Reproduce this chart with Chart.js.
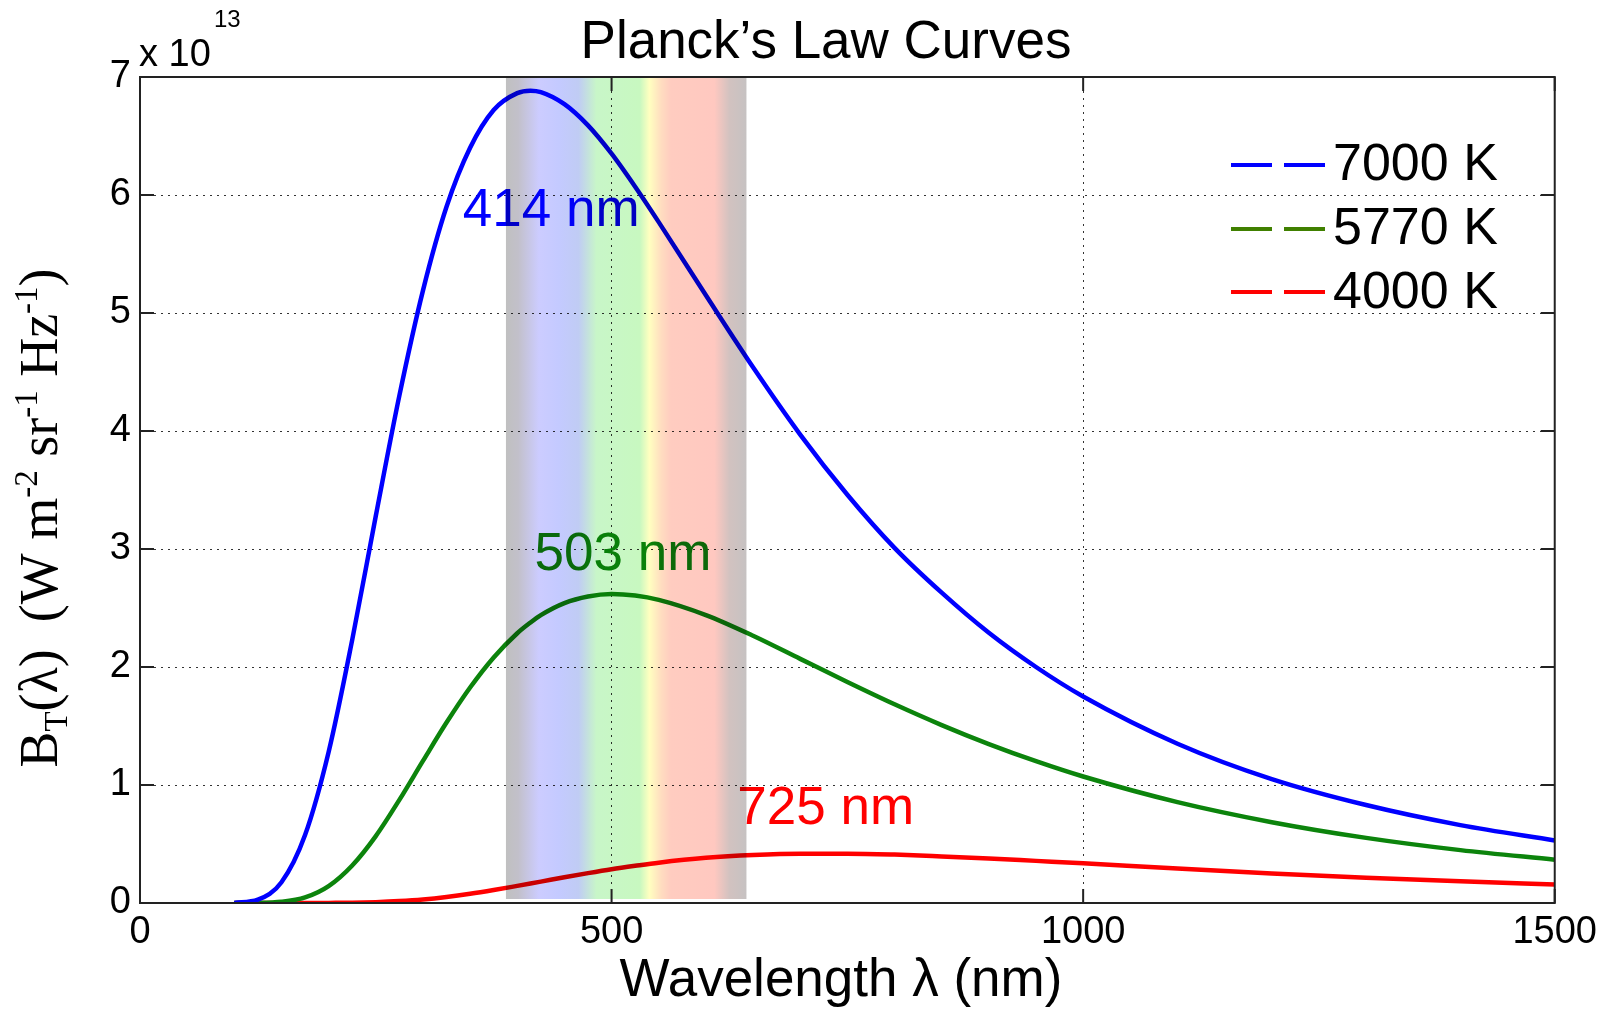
<!DOCTYPE html>
<html>
<head>
<meta charset="utf-8">
<script src="https://cdn.jsdelivr.net/npm/chart.js@4.4.0/dist/chart.umd.min.js"></script>
<style>
  html, body { margin: 0; padding: 0; background: #fff; }
</style>
</head>
<body>
<canvas id="planck-chart" width="1604" height="1014"></canvas>
<script>
// wavelength in nm, spectral radiance in units of 1e13
var wavelengths = [100, 125, 150, 175, 200, 225, 250, 275, 300, 325, 350, 375, 400, 414, 425, 450, 475, 500, 525, 550, 600, 650, 700, 750, 800, 850, 900, 950, 1000, 1100, 1200, 1300, 1400, 1500];
var temp7000 = [0.001, 0.028, 0.176, 0.576, 1.28, 2.23, 3.28, 4.30, 5.19, 5.90, 6.40, 6.72, 6.863, 6.884, 6.872, 6.77, 6.59, 6.35, 6.07, 5.77, 5.15, 4.54, 3.97, 3.46, 3.01, 2.63, 2.29, 2.00, 1.75, 1.35, 1.05, 0.83, 0.66, 0.53];
var temp5770 = [0.000, 0.001, 0.010, 0.047, 0.143, 0.318, 0.567, 0.874, 1.204, 1.529, 1.826, 2.081, 2.286, 2.377, 2.440, 2.542, 2.598, 2.619, 2.606, 2.569, 2.440, 2.265, 2.069, 1.873, 1.684, 1.508, 1.347, 1.202, 1.072, 0.855, 0.685, 0.552, 0.448, 0.367];
var temp4000 = [0.000, 0.000, 0.000, 0.000, 0.001, 0.002, 0.007, 0.016, 0.030, 0.051, 0.078, 0.110, 0.145, 0.165, 0.181, 0.218, 0.253, 0.286, 0.315, 0.342, 0.383, 0.407, 0.418, 0.418, 0.410, 0.395, 0.378, 0.357, 0.336, 0.292, 0.251, 0.215, 0.184, 0.157];

var seriesNames = ['7000 K', '5770 K', '4000 K'];
var seriesColors = ['#0000ff', '#0c840c', '#ff0000'];
var legendColors = ['#0000ff', '#408000', '#ff0000'];

// peak annotations (label centre in nm, baseline in 1e13 units)
var peakLabels = ['414 nm', '503 nm', '725 nm'];
var peakLabelX = [436, 512, 727];
var peakLabelY = [5.74, 2.82, 0.67];

// visible band, stops in nm
var bandStops = [388, 401, 423, 444, 465, 484, 530, 540, 553, 563, 609, 625, 643];
var bandColors = ['#c0c0c0', '#c2c0ca', '#ccccff', '#c4caff', '#c0ccf4', '#c8f6c8', '#c8f8c0', '#ffffc0', '#ffdcc0', '#ffccc0', '#ffc8c0', '#d2c2c0', '#c6c2c2'];

function toPoints(vals) {
    return wavelengths.map(function(w, i) { return { x: w, y: vals[i] }; });
}

var sans = '"Liberation Sans", Arial, Helvetica, sans-serif';
var serif = '"Liberation Serif", "Times New Roman", serif';

var decorations = {
    id: 'decorations',
    afterDatasetsDraw: function(chart) {
        var ctx = chart.ctx, area = chart.chartArea;
        var xs = chart.scales.x, ys = chart.scales.y;

        ctx.save();
        ctx.beginPath();
        ctx.rect(area.left, area.top, area.right - area.left, area.bottom - area.top);
        ctx.clip();

        // peak wavelength labels
        ctx.font = '53px ' + sans;
        ctx.textAlign = 'center';
        ctx.textBaseline = 'alphabetic';
        peakLabels.forEach(function(t, i) {
            ctx.fillStyle = seriesColors[i];
            ctx.fillText(t, xs.getPixelForValue(peakLabelX[i]), ys.getPixelForValue(peakLabelY[i]));
        });

        // visible spectrum band, multiplied over curves
        var x0 = xs.getPixelForValue(bandStops[0]);
        var x1 = xs.getPixelForValue(bandStops[bandStops.length - 1]);
        var grad = ctx.createLinearGradient(x0, 0, x1, 0);
        bandStops.forEach(function(s, i) {
            grad.addColorStop((xs.getPixelForValue(s) - x0) / (x1 - x0), bandColors[i]);
        });
        ctx.globalCompositeOperation = 'multiply';
        ctx.fillStyle = grad;
        ctx.fillRect(x0, area.top, x1 - x0, area.bottom - area.top - 4);
        ctx.restore();

        // box and inward ticks
        ctx.save();
        ctx.strokeStyle = '#222';
        ctx.lineWidth = 2;
        ctx.strokeRect(area.left, area.top, area.right - area.left, area.bottom - area.top);
        ctx.beginPath();
        xs.ticks.forEach(function(t) {
            var px = xs.getPixelForValue(t.value);
            ctx.moveTo(px, area.bottom); ctx.lineTo(px, area.bottom - 14);
            ctx.moveTo(px, area.top); ctx.lineTo(px, area.top + 14);
        });
        ys.ticks.forEach(function(t) {
            var py = ys.getPixelForValue(t.value);
            ctx.moveTo(area.left, py); ctx.lineTo(area.left + 14, py);
            ctx.moveTo(area.right, py); ctx.lineTo(area.right - 14, py);
        });
        ctx.stroke();
        ctx.restore();
    },
    afterDraw: function(chart) {
        var ctx = chart.ctx;
        ctx.save();
        ctx.fillStyle = '#000';
        ctx.textBaseline = 'alphabetic';

        // title
        ctx.textAlign = 'center';
        ctx.font = '53px ' + sans;
        ctx.fillText('Planck\u2019s Law Curves', 826, 58);

        // x axis title
        ctx.font = '53px ' + sans;
        ctx.fillText('Wavelength \u03bb (nm)', 841, 996);

        // exponent
        ctx.textAlign = 'left';
        ctx.font = '38px ' + sans;
        ctx.fillText('x 10', 139, 66);
        ctx.font = '24px ' + sans;
        ctx.fillText('13', 214, 27);

        // legend
        ctx.font = '52px ' + sans;
        var rowsLine = [165, 229, 292];
        var rowsText = [180, 244, 308];
        seriesNames.forEach(function(name, i) {
            ctx.strokeStyle = legendColors[i];
            ctx.lineWidth = 4;
            ctx.beginPath();
            ctx.moveTo(1231, rowsLine[i]); ctx.lineTo(1272, rowsLine[i]);
            ctx.moveTo(1284, rowsLine[i]); ctx.lineTo(1325, rowsLine[i]);
            ctx.stroke();
            ctx.fillStyle = '#000';
            ctx.fillText(name, 1333, rowsText[i]);
        });

        // y axis title with sub/superscripts
        var parts = [
            { t: 'B' }, { t: 'T', off: 10 }, { t: '(\u03bb)' }, { t: '  (W m' },
            { t: '-2', off: -20 }, { t: ' sr' }, { t: '-1', off: -20 },
            { t: ' Hz' }, { t: '-1', off: -20 }, { t: ')' }
        ];
        ctx.translate(57, 518);
        ctx.rotate(-Math.PI / 2);
        var total = 0;
        parts.forEach(function(p) {
            ctx.font = (p.off ? 33 : 54) + 'px ' + serif;
            p.w = ctx.measureText(p.t).width;
            total += p.w;
        });
        var cx = -total / 2;
        parts.forEach(function(p) {
            ctx.font = (p.off ? 33 : 54) + 'px ' + serif;
            ctx.fillText(p.t, cx, p.off || 0);
            cx += p.w;
        });
        ctx.restore();
    }
};

document.addEventListener('DOMContentLoaded', function() {
    var ctx = document.getElementById('planck-chart').getContext('2d');
    var datasets = [temp7000, temp5770, temp4000].map(function(vals, i) {
        return {
            label: seriesNames[i],
            data: toPoints(vals),
            borderColor: seriesColors[i],
            borderWidth: 4.5,
            pointRadius: 0,
            fill: false,
            cubicInterpolationMode: 'monotone'
        };
    });
    var tickFont = { family: sans, size: 38 };
    var plainLabel = function(value) { return String(value); };
    var planckChart = new Chart(ctx, {
        type: 'line',
        data: { datasets: datasets },
        options: {
            responsive: false,
            animation: false,
            devicePixelRatio: 1,
            layout: { padding: { left: 0, right: 47, top: 77, bottom: 0 } },
            plugins: {
                legend: { display: false },
                tooltip: { enabled: false },
                title: { display: false }
            },
            scales: {
                x: {
                    type: 'linear',
                    min: 0,
                    max: 1500,
                    ticks: { stepSize: 500, font: tickFont, color: '#000', padding: 7, maxRotation: 0, callback: plainLabel },
                    grid: { color: '#333', lineWidth: 1, drawTicks: false },
                    border: { display: false, dash: [2, 5] },
                    afterFit: function(scale) { scale.height = 111; }
                },
                y: {
                    min: 0,
                    max: 7,
                    ticks: { stepSize: 1, font: tickFont, color: '#000', padding: 9, callback: plainLabel },
                    grid: { color: '#333', lineWidth: 1, drawTicks: false },
                    border: { display: false, dash: [2, 5] },
                    afterFit: function(scale) { scale.width = 140; }
                }
            }
        },
        plugins: [decorations]
    });
});
</script>
</body>
</html>
